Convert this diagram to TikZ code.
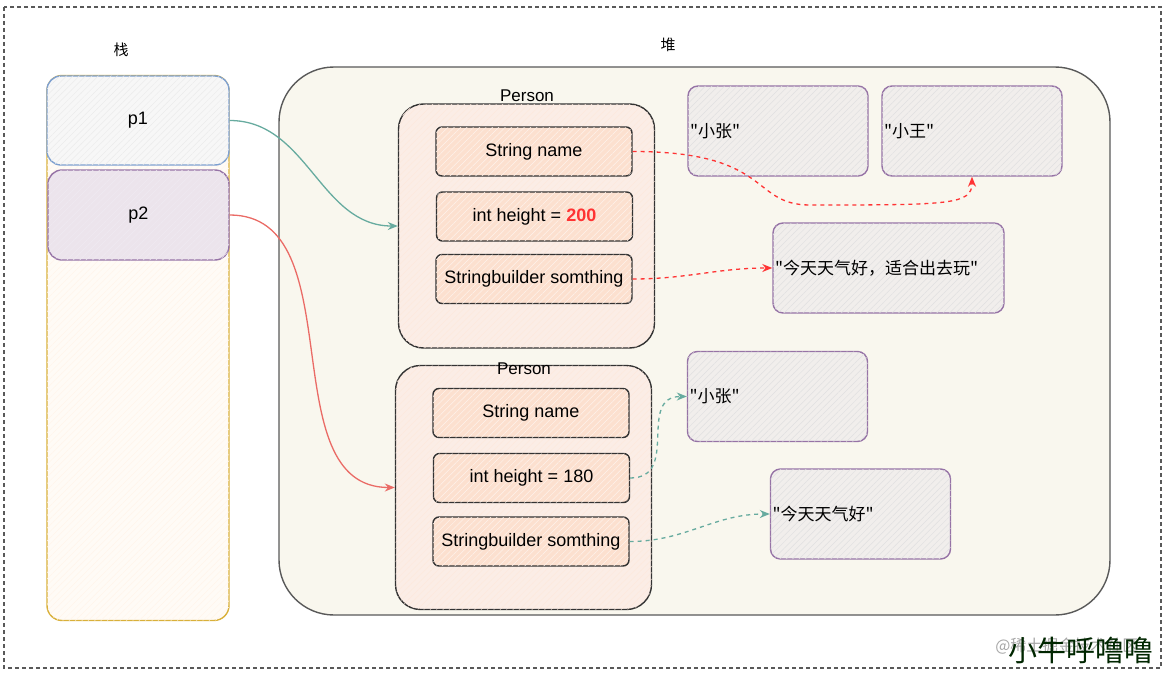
\documentclass[tikz,border=0pt]{standalone}
\usepackage{fontspec}
\setmainfont{Liberation Sans}
\newfontfamily\cjk{Noto Sans CJK SC}
\usetikzlibrary{arrows.meta,patterns.meta}

\definecolor{stackline}{HTML}{D9B03A}
\definecolor{stackfill}{HTML}{FFFBF6}
\definecolor{pline}{HTML}{7EA0D0}
\definecolor{qline}{HTML}{9673A6}
\definecolor{qfill}{HTML}{ECE4EC}
\definecolor{heapfill}{HTML}{F9F7EE}
\definecolor{personfill}{HTML}{FBEDE6}
\definecolor{fieldfill}{HTML}{FCE0CF}
\definecolor{strfill}{HTML}{F1EEEC}
\definecolor{linkgreen}{HTML}{67AB9F}
\definecolor{linkred}{HTML}{EA6B66}
\definecolor{refred}{HTML}{FF3333}

\tikzset{
  txt/.style={font=\fontsize{18}{21}\selectfont},
  hatch/.style={postaction={pattern={Lines[angle=45,distance=4.5pt,line width=0.5pt]},pattern color=#1}},
  box/.style={draw,inner sep=0pt,line width=1.4pt,txt},
  strbox/.style={box,draw=qline,fill=strfill,hatch=black!12,rounded corners=10pt,
    text width=176pt,inner xsep=2pt,align=left,minimum height=90pt,font=\cjk\fontsize{17}{20}\selectfont},
  field/.style={box,draw=black!80,fill=fieldfill,hatch=white!60!fieldfill,rounded corners=6pt,
    minimum width=196pt,minimum height=49pt},
  person/.style={box,draw=black!80,fill=personfill,hatch=fieldfill!70,rounded corners=25pt,
    minimum width=256pt,minimum height=244pt},
  link/.style={line width=1.3pt,-{Stealth[length=10pt,width=8pt]}},
  reflink/.style={link,dash pattern=on 4pt off 4pt}
}

\begin{document}
\begin{tikzpicture}[x=1pt,y=-1pt]

  \useasboundingbox (0,0) rectangle (1168,677);
  \draw[black!65,line width=1.2pt,dash pattern=on 4pt off 3pt] (4,7) rectangle (1161,668);

  % stack
  \node[txt,font=\cjk\fontsize{15}{18}\selectfont] (stacklabel) at (121,50) {栈};
  \node[box,draw=stackline,fill=stackfill,hatch=orange!8,rounded corners=15pt,
        minimum width=182pt,minimum height=545pt] (stack) at (138,348) {};
  \node[box,draw=pline,fill=black!3,hatch=black!8,rounded corners=14pt,
        minimum width=182pt,minimum height=89pt] (p1) at (138,120.5) {p1};
  \node[box,draw=qline,fill=qfill,hatch=qline!15,rounded corners=14pt,
        minimum width=181pt,minimum height=90pt] (p2) at (138.5,215) {p2};

  % heap
  \node[txt,font=\cjk\fontsize{15}{18}\selectfont] (heaplabel) at (668,45) {堆};
  \node[box,draw=black!65,fill=heapfill,rounded corners=55pt,
        minimum width=831pt,minimum height=548pt] (heap) at (694.5,341) {};

  \node[person] (person1) at (526.5,226) {};
  \node[txt,font=\fontsize{17}{20}\selectfont] (plabel1) at (527,96) {Person};
  \begin{scope}[every node/.style={field}]
    \node (name1)   at (534,151.5) {String name};
    \node (height1) at (534.5,216.5) {int height = \textcolor{refred}{\textbf{200}}};
    \node (sb1)     at (534,279) {Stringbuilder somthing};
  \end{scope}

  \node[person] (person2) at (523.5,487.5) {};
  \node[txt,font=\fontsize{17}{20}\selectfont] (plabel2) at (524,369) {Person};
  \begin{scope}[every node/.style={field}]
    \node (name2)   at (531,413) {String name};
    \node (height2) at (531.5,478) {int height = 180};
    \node (sb2)     at (531,541.5) {Stringbuilder somthing};
  \end{scope}

  \begin{scope}[every node/.style={strbox}]
    \node (s1) at (778,131) {"小张"};
    \node (s2) at (972,131) {"小王"};
    \node[text width=227pt] (s3) at (888.5,268) {"今天天气好，适合出去玩"};
    \node (s4) at (777.5,396.5) {"小张"};
    \node (s5) at (860.5,514) {"今天天气好"};
  \end{scope}

  % references
  \coordinate (k1) at (810,205);
  \path (p1) edge[link,linkgreen,out=0,in=180] (person1);
  \path (p2) edge[link,linkred,out=0,in=180] (person2);
  \draw[reflink,refred] (name1.east) .. controls +(140,0) and +(-60,0) .. (k1)
        .. controls +(140,0) and +(0,28) .. (s2.south);
  \path (sb1) edge[reflink,refred,out=0,in=180] (s3);
  \path (height2) edge[reflink,linkgreen,out=0,in=180,looseness=1.3] (s4);
  \path (sb2) edge[reflink,linkgreen,out=0,in=180] (s5);

  % watermark
  \node[anchor=east,text=black!35,font=\cjk\fontsize{16}{18}\selectfont] (wm1) at (1142,646) {@稀土掘金技术社区};
  \node[anchor=east,text=black!85!green,font=\cjk\fontsize{29}{32}\selectfont] (wm2) at (1157,650) {小牛呼噜噜};

\end{tikzpicture}
\end{document}
